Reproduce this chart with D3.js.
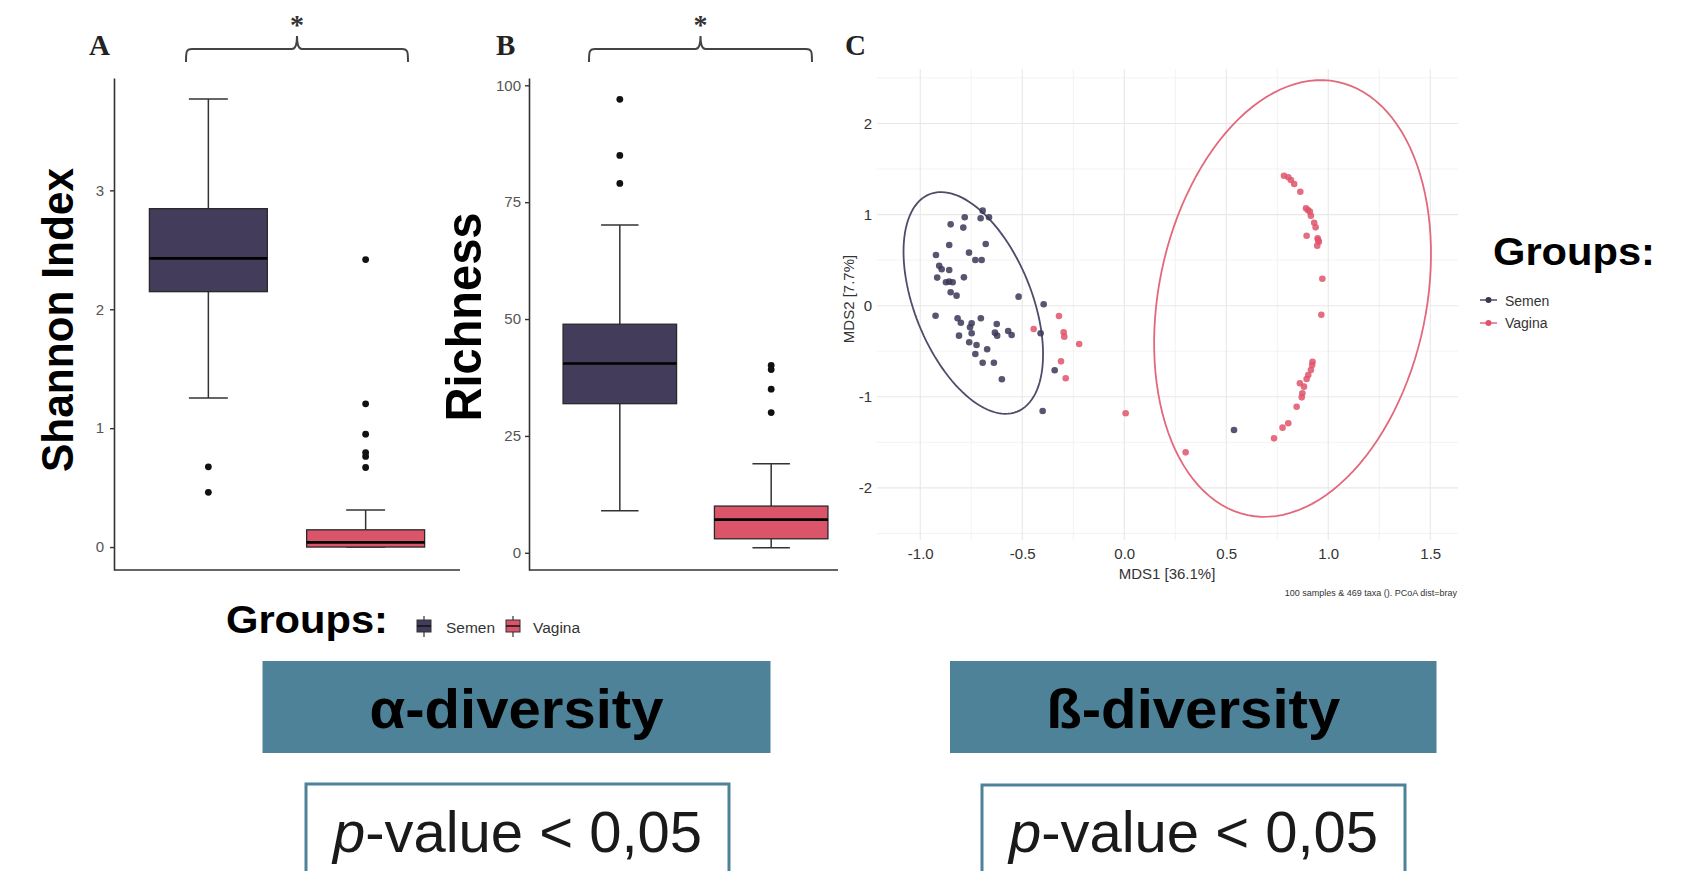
<!DOCTYPE html>
<html>
<head>
<meta charset="utf-8">
<script src="https://cdn.jsdelivr.net/npm/d3@7"></script>
<style>
  body { margin: 0; background: #fff; }
  svg { display: block; }
  text { font-family: "Liberation Sans", Arial, Helvetica, sans-serif; }
</style>
</head>
<body>
<div id="chart"></div>
<script>
// ---- data ----
var groups = ["Semen", "Vagina"];

// [lower whisker, Q1, median, Q3, upper whisker]
var shannonBox = [[1.254, 2.148, 2.428, 2.846, 3.768], [0.0, 0.0, 0.039, 0.145, 0.312]];
var shannonOutliers = [[0.675, 0.46], [2.418, 1.205, 0.949, 0.795, 0.762, 0.669]];
var shannonTicks = [0, 1, 2, 3];

var richnessBox = [[9.0, 31.9, 40.5, 48.9, 70.1], [1.06, 3.0, 7.1, 10.0, 19.05]];
var richnessOutliers = [[97.0, 85.0, 79.0], [40.1, 39.2, 35.0, 30.0]];
var richnessTicks = [0, 25, 50, 75, 100];

// PCoA coordinates [MDS1, MDS2]
var semenPoints = [
  [-0.694, 1.043], [-0.704, 0.959], [-0.663, 0.970], [-0.782, 0.970], [-0.851, 0.893],
  [-0.789, 0.857], [-0.858, 0.666], [-0.679, 0.677], [-0.923, 0.556], [-0.761, 0.582],
  [-0.730, 0.502], [-0.699, 0.502], [-0.907, 0.439], [-0.895, 0.400], [-0.858, 0.392],
  [-0.917, 0.308], [-0.786, 0.311], [-0.874, 0.257], [-0.841, 0.257], [-0.858, 0.264],
  [-0.851, 0.147], [-0.822, 0.110], [-0.518, 0.099], [-0.395, 0.015], [-0.925, -0.110],
  [-0.817, -0.138], [-0.801, -0.187], [-0.703, -0.138], [-0.748, -0.193], [-0.756, -0.237],
  [-0.625, -0.201], [-0.748, -0.303], [-0.810, -0.329], [-0.634, -0.296], [-0.623, -0.329],
  [-0.569, -0.278], [-0.552, -0.322], [-0.410, -0.303], [-0.760, -0.402], [-0.724, -0.431],
  [-0.672, -0.479], [-0.730, -0.530], [-0.694, -0.626], [-0.639, -0.626], [-0.600, -0.808],
  [-0.341, -0.709], [-0.400, -1.156], [0.538, -1.364]
];
var vaginaPoints = [
  [-0.320, -0.113], [-0.444, -0.256], [-0.297, -0.292], [-0.294, -0.340], [-0.221, -0.420],
  [-0.310, -0.611], [-0.287, -0.797], [0.007, -1.181], [0.301, -1.610],
  [0.783, 1.427], [0.804, 1.409], [0.817, 1.380], [0.833, 1.336], [0.863, 1.251],
  [0.891, 1.069], [0.910, 1.032], [0.900, 1.050], [0.915, 0.988], [0.931, 0.911],
  [0.938, 0.860], [0.894, 0.768], [0.948, 0.740], [0.954, 0.703], [0.950, 0.720],
  [0.946, 0.659], [0.971, 0.296], [0.966, -0.099], [0.923, -0.615], [0.921, -0.651],
  [0.915, -0.706], [0.902, -0.761], [0.894, -0.805], [0.861, -0.852], [0.881, -0.889],
  [0.873, -0.962], [0.870, -1.006], [0.845, -1.109], [0.804, -1.291], [0.776, -1.339],
  [0.734, -1.456]
];
// ellipse: [centre x, centre y, axis1 x, axis1 y, axis2 x, axis2 y] in MDS units
var semenEllipse = [-0.740, 0.030, 0.215, -1.193, -0.266, -0.240];
var vaginaEllipse = [0.825, 0.079, 0.220, 2.378, 0.642, -0.298];

var mdsXTicks = [-1, -0.5, 0, 0.5, 1, 1.5];
var mdsXMinor = [-0.75, -0.25, 0.25, 0.75, 1.25];
var mdsYTicks = [-2, -1, 0, 1, 2];
var mdsYMinor = [-2.5, -1.5, -0.5, 0.5, 1.5, 2.5];

var boxColors = ["#433c5a", "#da5569"];
var pointColors = ["#3a3756", "#e0546a"];
var ellipseColors = ["#4f4c6b", "#e2697c"];
var teal = "#4e8299";
var SERIF = "'Liberation Serif', 'Times New Roman', serif";

var svg = d3.select("#chart").append("svg")
    .attr("width", 1705)
    .attr("height", 871);

svg.append("rect").attr("width", 1705).attr("height", 871).attr("fill", "#fff");

// ---- boxplot panels ----
function drawBoxPanel(p) {
    var g = svg.append("g");
    var x = d3.scalePoint().domain(groups).range(p.xRange).padding(0.6);
    var y = d3.scaleLinear().domain(p.yDomain).range([570, 78]);
    var bw = x.step() * 0.75;

    var yAxis = g.append("g")
        .attr("transform", `translate(${p.xRange[0]},0)`)
        .call(d3.axisLeft(y).tickValues(p.ticks).tickFormat(d => d)
            .tickSize(4).tickSizeOuter(0).tickPadding(p.pad));
    yAxis.select(".domain").attr("stroke", "#333").attr("stroke-width", 1.6);
    yAxis.selectAll(".tick line").attr("stroke", "#333").attr("stroke-width", 1.4);
    yAxis.selectAll(".tick text")
        .attr("font-size", 15)
        .attr("fill", "#555")
        .style("font-family", "'Liberation Sans', Arial, sans-serif");

    // x axis line (no ticks in the original)
    g.append("line")
        .attr("x1", p.xRange[0]).attr("x2", p.axisEnd)
        .attr("y1", y.range()[0]).attr("y2", y.range()[0])
        .attr("stroke", "#333").attr("stroke-width", 1.6);

    groups.forEach(function(grp, i) {
        var s = p.box[i];
        var cx = x(grp);
        var bg = g.append("g");
        // whiskers
        bg.append("line").attr("x1", cx).attr("x2", cx)
            .attr("y1", y(s[3])).attr("y2", y(s[4]))
            .attr("stroke", "#333").attr("stroke-width", 1.5);
        bg.append("line").attr("x1", cx).attr("x2", cx)
            .attr("y1", y(s[1])).attr("y2", y(s[0]))
            .attr("stroke", "#333").attr("stroke-width", 1.5);
        [s[0], s[4]].forEach(function(v) {
            bg.append("line")
                .attr("x1", cx - bw * 0.165).attr("x2", cx + bw * 0.165)
                .attr("y1", y(v)).attr("y2", y(v))
                .attr("stroke", "#333").attr("stroke-width", 1.5);
        });
        bg.append("rect")
            .attr("x", cx - bw / 2).attr("width", bw)
            .attr("y", y(s[3])).attr("height", y(s[1]) - y(s[3]))
            .attr("fill", boxColors[i])
            .attr("stroke", "#2a2a2a").attr("stroke-width", 1.3);
        bg.append("line")
            .attr("x1", cx - bw / 2).attr("x2", cx + bw / 2)
            .attr("y1", y(s[2])).attr("y2", y(s[2]))
            .attr("stroke", "#000").attr("stroke-width", 2.6);
        bg.selectAll(".out")
            .data(p.out[i])
            .enter()
            .append("circle")
            .attr("cx", cx)
            .attr("cy", d => y(d))
            .attr("r", 3.4)
            .attr("fill", "#111");
    });

    // axis title
    g.append("text")
        .attr("transform", `translate(${p.labelX},${p.labelY}) rotate(-90)`)
        .attr("text-anchor", "middle")
        .attr("dy", "0.36em")
        .attr("font-size", p.labelSize)
        .attr("font-weight", "bold")
        .attr("textLength", p.labelLen)
        .attr("lengthAdjust", "spacingAndGlyphs")
        .text(p.label);

    // panel letter
    g.append("text")
        .attr("x", p.letterX).attr("y", 55)
        .style("font-family", SERIF)
        .attr("font-weight", "bold")
        .attr("font-size", 29)
        .attr("fill", "#222")
        .text(p.letter);

    // significance bracket
    var b = p.bracket, mid = (b[0] + b[1]) / 2, yt = 49, ye = 62, ytip = 36;
    g.append("path")
        .attr("d", `M${b[0]},${ye} C${b[0]},${yt + 3} ${b[0]},${yt} ${b[0] + 6},${yt}
                    L${mid - 5},${yt} Q${mid},${yt} ${mid},${ytip} Q${mid},${yt} ${mid + 5},${yt}
                    L${b[1] - 6},${yt} C${b[1]},${yt} ${b[1]},${yt + 3} ${b[1]},${ye}`)
        .attr("fill", "none")
        .attr("stroke", "#444")
        .attr("stroke-width", 2);
    g.append("text")
        .attr("x", mid).attr("y", 34)
        .attr("text-anchor", "middle")
        .style("font-family", SERIF)
        .attr("font-size", 28)
        .attr("font-weight", "bold")
        .attr("fill", "#333")
        .text("*");
}

drawBoxPanel({
    xRange: [114, 460], axisEnd: 460, yDomain: [-0.193, 3.945], ticks: shannonTicks, pad: 6,
    box: shannonBox, out: shannonOutliers,
    label: "Shannon Index", labelX: 57, labelY: 320, labelSize: 44, labelLen: 304,
    letter: "A", letterX: 89, bracket: [186, 408]
});
drawBoxPanel({
    xRange: [529, 862], axisEnd: 838, yDomain: [-3.675, 101.56], ticks: richnessTicks, pad: 4,
    box: richnessBox, out: richnessOutliers,
    label: "Richness", labelX: 463, labelY: 317, labelSize: 50, labelLen: 209,
    letter: "B", letterX: 496, bracket: [589, 812]
});

// bottom boxplot legend
var legB = svg.append("g");
legB.append("text")
    .attr("x", 226).attr("y", 633)
    .attr("font-size", 38).attr("font-weight", "bold")
    .attr("textLength", 162).attr("lengthAdjust", "spacingAndGlyphs")
    .text("Groups:");
[[424, 446], [513, 533]].forEach(function(pos, i) {
    legB.append("line").attr("x1", pos[0]).attr("x2", pos[0])
        .attr("y1", 616).attr("y2", 637).attr("stroke", "#333").attr("stroke-width", 1.2);
    legB.append("rect").attr("x", pos[0] - 7).attr("y", 620).attr("width", 14).attr("height", 12)
        .attr("fill", boxColors[i]).attr("stroke", "#333").attr("stroke-width", 1);
    legB.append("line").attr("x1", pos[0] - 7).attr("x2", pos[0] + 7)
        .attr("y1", 626).attr("y2", 626).attr("stroke", "#111").attr("stroke-width", 1.5);
    legB.append("text").attr("x", pos[1]).attr("y", 633)
        .attr("font-size", 15.5).attr("fill", "#333").text(groups[i]);
});

// ---- PCoA panel ----
var cg = svg.append("g");
var xC = d3.scaleLinear().domain([-1.212, 1.636]).range([877, 1458]);
var yC = d3.scaleLinear().domain([-2.572, 2.598]).range([540, 69]);

function gridV(vals, w, col) {
    cg.selectAll(null).data(vals).enter().append("line")
        .attr("x1", d => xC(d)).attr("x2", d => xC(d))
        .attr("y1", yC.range()[0]).attr("y2", yC.range()[1])
        .attr("stroke", col).attr("stroke-width", w);
}
function gridH(vals, w, col) {
    cg.selectAll(null).data(vals).enter().append("line")
        .attr("y1", d => yC(d)).attr("y2", d => yC(d))
        .attr("x1", xC.range()[0]).attr("x2", xC.range()[1])
        .attr("stroke", col).attr("stroke-width", w);
}
gridV(mdsXMinor, 0.8, "#f0f0f0");
gridH(mdsYMinor, 0.8, "#f0f0f0");
gridV(mdsXTicks, 1.1, "#e8e8e8");
gridH(mdsYTicks, 1.1, "#e8e8e8");

var xAxC = cg.append("g")
    .attr("transform", `translate(0,${yC.range()[0]})`)
    .call(d3.axisBottom(xC).tickValues(mdsXTicks).tickSize(0).tickPadding(8)
        .tickFormat(d => (d < 0 ? "-" : "") + Math.abs(d).toFixed(1)));
var yAxC = cg.append("g")
    .attr("transform", `translate(${xC.range()[0]},0)`)
    .call(d3.axisLeft(yC).tickValues(mdsYTicks).tickSize(0).tickPadding(5)
        .tickFormat(d => (d < 0 ? "-" : "") + Math.abs(d)));
[xAxC, yAxC].forEach(function(a) {
    a.select(".domain").remove();
    a.selectAll("text").attr("font-size", 15).attr("fill", "#333")
        .style("font-family", "'Liberation Sans', Arial, sans-serif");
});

cg.append("text")
    .attr("x", 1167).attr("y", 579)
    .attr("text-anchor", "middle").attr("font-size", 15).attr("fill", "#333")
    .text("MDS1 [36.1%]");
cg.append("text")
    .attr("transform", "translate(849,299) rotate(-90)")
    .attr("text-anchor", "middle").attr("dy", "0.35em")
    .attr("font-size", 15).attr("fill", "#333")
    .text("MDS2 [7.7%]");
cg.append("text")
    .attr("x", 1457).attr("y", 596)
    .attr("text-anchor", "end").attr("font-size", 9).attr("fill", "#333")
    .text("100 samples & 469 taxa (). PCoA dist=bray");

// ellipses
var ellLine = d3.line().x(d => xC(d[0])).y(d => yC(d[1]));
[semenEllipse, vaginaEllipse].forEach(function(e, i) {
    var pts = d3.range(0, 361, 3).map(function(deg) {
        var t = deg * Math.PI / 180;
        return [e[0] + e[2] * Math.cos(t) + e[4] * Math.sin(t),
                e[1] + e[3] * Math.cos(t) + e[5] * Math.sin(t)];
    });
    cg.append("path")
        .attr("d", ellLine(pts))
        .attr("fill", "none")
        .attr("stroke", ellipseColors[i])
        .attr("stroke-width", 1.8);
});

// points
[semenPoints, vaginaPoints].forEach(function(pts, i) {
    cg.selectAll(null)
        .data(pts)
        .enter()
        .append("circle")
        .attr("cx", d => xC(d[0]))
        .attr("cy", d => yC(d[1]))
        .attr("r", 3.3)
        .attr("fill", pointColors[i])
        .attr("fill-opacity", 0.85);
});

cg.append("text")
    .attr("x", 845).attr("y", 55)
    .style("font-family", SERIF)
    .attr("font-weight", "bold").attr("font-size", 29).attr("fill", "#222")
    .text("C");

// right legend
var legR = svg.append("g");
legR.append("text")
    .attr("x", 1493).attr("y", 265)
    .attr("font-size", 39).attr("font-weight", "bold")
    .attr("textLength", 162).attr("lengthAdjust", "spacingAndGlyphs")
    .text("Groups:");
[[300, 306], [323, 328]].forEach(function(pos, i) {
    legR.append("line").attr("x1", 1480).attr("x2", 1497)
        .attr("y1", pos[0]).attr("y2", pos[0])
        .attr("stroke", ellipseColors[i]).attr("stroke-width", 1.5);
    legR.append("circle").attr("cx", 1488.5).attr("cy", pos[0]).attr("r", 3)
        .attr("fill", pointColors[i]);
    legR.append("text").attr("x", 1505).attr("y", pos[1])
        .attr("font-size", 14).attr("fill", "#333").text(groups[i]);
});

// ---- summary boxes ----
var summaries = [
    {title: "\u03b1-diversity", box: [262.5, 661, 508, 92], pbox: [306, 784, 423]},
    {title: "\u00df-diversity", box: [950, 661, 486.5, 92], pbox: [982, 785, 423]}
];
summaries.forEach(function(s) {
    svg.append("rect")
        .attr("x", s.box[0]).attr("y", s.box[1])
        .attr("width", s.box[2]).attr("height", s.box[3])
        .attr("fill", teal);
    svg.append("text")
        .attr("x", s.box[0] + s.box[2] / 2).attr("y", 728)
        .attr("text-anchor", "middle")
        .attr("font-size", 56).attr("font-weight", "bold").attr("fill", "#000")
        .attr("textLength", 294).attr("lengthAdjust", "spacingAndGlyphs")
        .text(s.title);
    svg.append("rect")
        .attr("x", s.pbox[0]).attr("y", s.pbox[1])
        .attr("width", s.pbox[2]).attr("height", 140)
        .attr("fill", "#fff").attr("stroke", teal).attr("stroke-width", 3);
    var t = svg.append("text")
        .attr("x", s.pbox[0] + s.pbox[2] / 2).attr("y", 852)
        .attr("text-anchor", "middle")
        .attr("font-size", 58).attr("fill", "#1a1a1a");
    t.append("tspan").attr("font-style", "italic").text("p");
    t.append("tspan").text("-value < 0,05");
});
</script>
</body>
</html>
